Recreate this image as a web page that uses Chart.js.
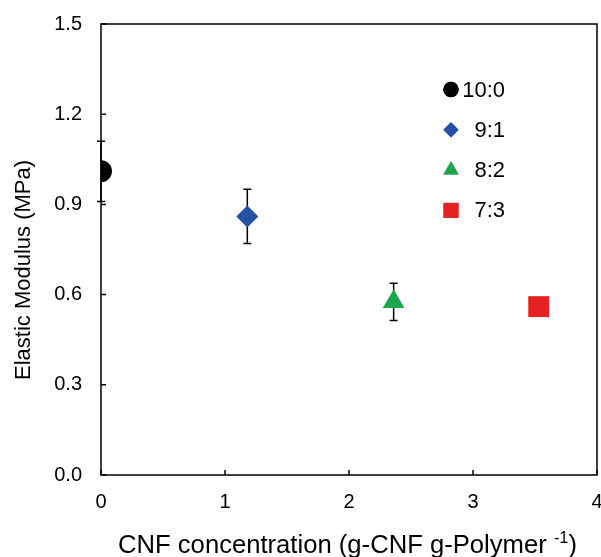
<!DOCTYPE html>
<html>
<head>
<meta charset="utf-8">
<script src="https://cdn.jsdelivr.net/npm/chart.js@4.4.1/dist/chart.umd.min.js"></script>
<style>
  html, body { margin: 0; padding: 0; background: #fff; }
  #wrap { width: 601px; height: 557px; }
</style>
</head>
<body>
<div id="wrap"><canvas id="chart" width="601" height="557"></canvas></div>
<script>
// values
const ratios = ['10:0', '9:1', '8:2', '7:3'];
const cnfConc = [0, 1.18, 2.36, 3.53];
const modulus = [1.01, 0.86, 0.576, 0.56];
const modulusErr = [0.10, 0.09, 0.062, 0.0];
const xTicks = [0, 1, 2, 3, 4];
const yTicks = [0, 0.3, 0.6, 0.9, 1.2, 1.5];

const FONT = '"Liberation Sans", Arial, sans-serif';

const pointStyles = ['circle', 'rectRot', 'triangle', 'rect'];
const pointColors = ['#000000', '#2451a3', '#1fa64c', '#e42320'];
const pointRadii = [11, 11, 12.5, 14.8];
const legendRadii = [7.7, 7.6, 8.9, 10.6];

const datasets = ratios.map((r, i) => ({
    label: r,
    data: [{ x: cnfConc[i], y: modulus[i] }],
    err: modulusErr[i],
    pointStyle: pointStyles[i],
    pointRadius: pointRadii[i],
    pointHoverRadius: pointRadii[i],
    backgroundColor: pointColors[i],
    borderColor: pointColors[i],
    borderWidth: 0
}));

// error bars, drawn under the markers
const errorBars = {
    id: 'errorBars',
    beforeDatasetsDraw(chart) {
        const { ctx, scales: { x, y } } = chart;
        ctx.save();
        ctx.strokeStyle = '#000';
        ctx.lineWidth = 1.5;
        chart.data.datasets.forEach(ds => {
            if (!ds.err) return;
            const p = ds.data[0];
            const px = x.getPixelForValue(p.x);
            const top = y.getPixelForValue(p.y + ds.err);
            const bot = y.getPixelForValue(p.y - ds.err);
            ctx.beginPath();
            ctx.moveTo(px, top); ctx.lineTo(px, bot);
            ctx.moveTo(px - 4, top); ctx.lineTo(px + 4, top);
            ctx.moveTo(px - 4, bot); ctx.lineTo(px + 4, bot);
            ctx.stroke();
        });
        ctx.restore();
    }
};

// box frame, inward ticks, axis titles and the legend
const frame = {
    id: 'frame',
    afterDraw(chart) {
        const { ctx, chartArea: a, scales: { x, y } } = chart;
        ctx.save();
        ctx.strokeStyle = '#000';
        ctx.lineWidth = 1.5;
        ctx.strokeRect(a.left, a.top, a.right - a.left, a.bottom - a.top);
        ctx.beginPath();
        yTicks.forEach(v => {
            const py = y.getPixelForValue(v);
            ctx.moveTo(a.left, py); ctx.lineTo(a.left + 5, py);
        });
        xTicks.forEach(v => {
            const px = x.getPixelForValue(v);
            ctx.moveTo(px, a.bottom); ctx.lineTo(px, a.bottom - 5);
        });
        ctx.stroke();

        // x title with superscript, fitted to the original's width
        ctx.fillStyle = '#000';
        ctx.textBaseline = 'alphabetic';
        ctx.textAlign = 'left';
        const main = 'CNF concentration (g-CNF g-Polymer ';
        const sup = '-1';
        const close = ')';
        const big = 25, small = 16;
        ctx.font = big + 'px ' + FONT;
        const w1 = ctx.measureText(main).width;
        const w3 = ctx.measureText(close).width;
        ctx.font = small + 'px ' + FONT;
        const w2 = ctx.measureText(sup).width;
        const k = 459 / (w1 + w2 + w3);
        ctx.save();
        ctx.translate(118, 553);
        ctx.scale(k, 1);
        ctx.font = big + 'px ' + FONT;
        ctx.fillText(main, 0, 0);
        ctx.font = small + 'px ' + FONT;
        ctx.fillText(sup, w1, -10);
        ctx.font = big + 'px ' + FONT;
        ctx.fillText(close, w1 + w2, 0);
        ctx.restore();

        // y title
        ctx.save();
        ctx.translate(30, 270);
        ctx.rotate(-Math.PI / 2);
        ctx.textAlign = 'center';
        ctx.textBaseline = 'alphabetic';
        ctx.font = '22px ' + FONT;
        ctx.fillText('Elastic Modulus (MPa)', 0, 0);
        ctx.restore();

        // legend inside the plot
        const lx = 451, ly = 89.5, step = 40.3, tx = 505;
        chart.data.datasets.forEach((ds, i) => {
            const cy = ly + i * step;
            ctx.fillStyle = ds.backgroundColor;
            Chart.helpers.drawPoint(ctx, { pointStyle: ds.pointStyle, radius: legendRadii[i], borderWidth: 0, rotation: 0 }, lx, cy);
            ctx.fill();
            ctx.fillStyle = '#000';
            ctx.font = '22px ' + FONT;
            ctx.textAlign = 'right';
            ctx.textBaseline = 'middle';
            ctx.fillText(ds.label, tx, cy + 1);
        });
        ctx.restore();
    }
};

new Chart(document.getElementById('chart'), {
    type: 'scatter',
    data: { datasets },
    options: {
        responsive: false,
        animation: false,
        layout: { autoPadding: false, padding: { top: 24, right: 4, bottom: 0, left: 0 } },
        plugins: { legend: { display: false }, tooltip: { enabled: false } },
        scales: {
            x: {
                type: 'linear',
                min: 0, max: 4,
                afterBuildTicks: s => { s.ticks = xTicks.map(v => ({ value: v })); },
                afterFit: s => { s.height = 82; s.paddingLeft = 0; s.paddingRight = 0; },
                grid: { display: false, drawTicks: false },
                border: { display: false },
                ticks: { color: '#000', padding: 15, font: { family: FONT, size: 20 }, callback: v => v.toString() }
            },
            y: {
                type: 'linear',
                min: 0, max: 1.5,
                afterBuildTicks: s => { s.ticks = yTicks.map(v => ({ value: v })); },
                afterFit: s => { s.width = 101; s.paddingTop = 0; s.paddingBottom = 0; },
                grid: { display: false, drawTicks: false },
                border: { display: false },
                ticks: { color: '#000', padding: 19, font: { family: FONT, size: 20 }, callback: v => v.toFixed(1) }
            }
        }
    },
    plugins: [errorBars, frame]
});
</script>
</body>
</html>
